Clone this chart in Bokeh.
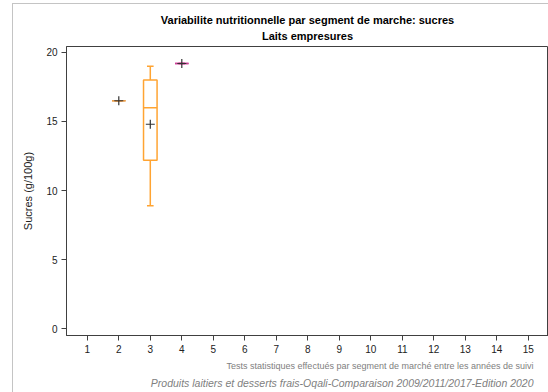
from bokeh.plotting import figure
from bokeh.models import ColumnDataSource, Title, Range1d, FixedTicker, InlineStyleSheet
from bokeh.embed import file_html
from bokeh.resources import INLINE

# Data
segments = [2, 3, 4]
low = [16.5, 8.9, 19.2]
q1 = [16.5, 12.2, 19.2]
med = [16.5, 16.0, 19.2]
q3 = [16.5, 18.0, 19.2]
high = [16.5, 19.0, 19.2]
mean = [16.5, 14.8, 19.2]
colors = ["#EDA04C", "#FFA432", "#CF3F98"]
x_ticks = list(range(1, 16))
y_ticks = [0, 5, 10, 15, 20]

title1 = "Variabilite nutritionnelle par segment de marche: sucres"
title2 = "Laits empresures"
foot1 = "Tests statistiques effectués par segment de marché entre les années de suivi"
foot2 = "Produits laitiers et desserts frais-Oqali-Comparaison 2009/2011/2017-Edition 2020"

W, H = 548, 392
FL, FB = 66, 335  # frame left / bottom (page pixels)
FONT = "Liberation Sans"

p = figure(width=W, height=H, output_backend="svg", toolbar_location=None,
           x_range=Range1d(0.34, 15.64), y_range=Range1d(-0.5, 20.43),
           min_border_left=FL, min_border_right=0, min_border_top=46, min_border_bottom=H - FB)

p.stylesheets = [InlineStyleSheet(css=":host{position:relative;} :host::after{content:'';position:absolute;"
                                      "left:12px;top:3px;right:0;bottom:0;border-left:1px solid #c4c4c4;"
                                      "border-top:1px solid #c4c4c4;pointer-events:none;}")]

p.xgrid.visible = False
p.ygrid.visible = False
p.outline_line_color = "#404040"
p.outline_line_width = 1

for ax in (p.xaxis, p.yaxis):
    ax.axis_line_color = "#404040"
    ax.major_tick_line_color = "#404040"
    ax.minor_tick_line_color = None
    ax.major_tick_out = 5
    ax.major_tick_in = 0
    ax.major_label_text_font = FONT
    ax.major_label_text_font_size = "10px"
    ax.major_label_text_color = "#222222"
    ax.major_label_standoff = 4

p.xaxis.ticker = FixedTicker(ticks=x_ticks)
p.yaxis.ticker = FixedTicker(ticks=y_ticks)
p.yaxis.axis_label = "Sucres (g/100g)"
p.yaxis.axis_label_text_font = FONT
p.yaxis.axis_label_text_font_size = "11px"
p.yaxis.axis_label_text_font_style = "normal"
p.yaxis.axis_label_text_color = "#222222"
p.yaxis.axis_label_standoff = 9

bw = 0.43
cw = 0.21
src = ColumnDataSource(dict(
    x=segments, low=low, q1=q1, med=med, q3=q3, high=high, mean=mean, color=colors,
    left=[s - bw / 2 for s in segments], right=[s + bw / 2 for s in segments],
    cl=[s - cw / 2 for s in segments], cr=[s + cw / 2 for s in segments],
))

p.segment(x0="x", y0="q3", x1="x", y1="high", source=src, line_color="color", line_width=1.5)
p.segment(x0="x", y0="low", x1="x", y1="q1", source=src, line_color="color", line_width=1.5)
p.segment(x0="cl", y0="high", x1="cr", y1="high", source=src, line_color="color", line_width=1.5)
p.segment(x0="cl", y0="low", x1="cr", y1="low", source=src, line_color="color", line_width=1.5)
p.quad(left="left", right="right", bottom="q1", top="q3", source=src,
       fill_color=None, line_color="color", line_width=1.5)
p.segment(x0="left", y0="med", x1="right", y1="med", source=src, line_color="color", line_width=1.5)
p.scatter(x="x", y="mean", source=src, marker="cross", size=9, line_color="#333333", line_width=1.2)

# two-line title
p.add_layout(Title(text=title1 + "\n" + title2, align="center", text_align="center",
                   text_font=FONT, text_font_size="11px", text_line_height=1.3,
                   text_font_style="bold", text_color="#000000", standoff=9), "above")
# footers
p.add_layout(Title(text=foot1, align="right", offset=15, text_font=FONT, text_font_size="9px",
                   text_font_style="normal", text_color="#808080", standoff=6), "below")
p.add_layout(Title(text=foot2, align="right", offset=15, text_font=FONT, text_font_size="10.5px",
                   text_font_style="italic", text_color="#808080", standoff=2), "below")

open("out.html", "w").write(file_html(p, INLINE))
